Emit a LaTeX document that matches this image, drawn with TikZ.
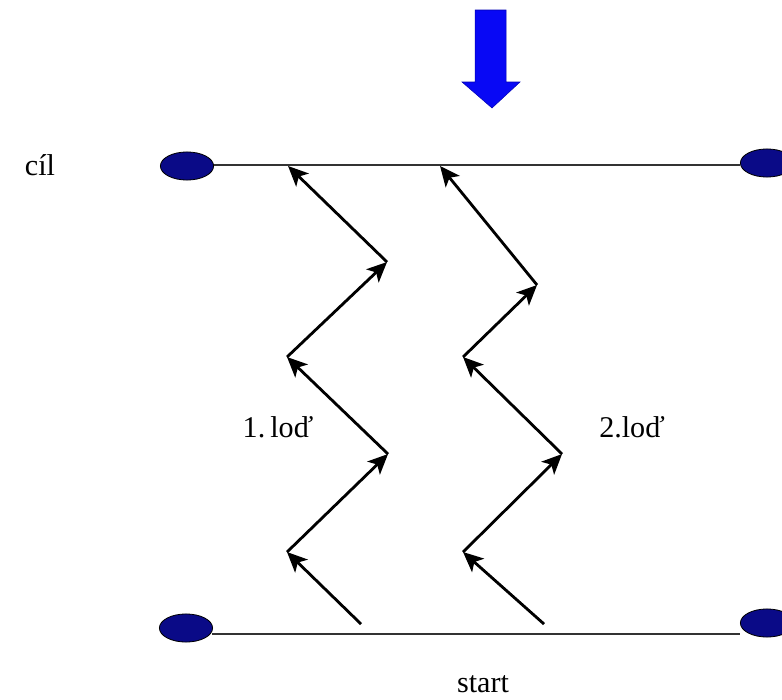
\documentclass[tikz,border=0pt]{standalone}
\usepackage{fontspec}
\setmainfont{Liberation Serif}
\usetikzlibrary{arrows.meta,shapes.geometric}
\definecolor{padnavy}{RGB}{10,10,135}
\definecolor{dropblue}{RGB}{8,8,245}
\begin{document}
\begin{tikzpicture}[scale=0.35,
    pad/.style={ellipse,draw=black,line width=0.8pt,fill=padnavy,minimum width=53pt,minimum height=28pt},
    leg/.style={line width=2.8pt,-{Stealth[length=20pt,width=18pt,inset=5pt]}},
    shore/.style={line width=1.8pt,black!80},
    lbl/.style={font=\fontsize{30}{36}\selectfont,anchor=base}]
    \tikzstyle{every node}+=[inner sep=0pt]
    \useasboundingbox (0,0) rectangle (78.2,-70);
    \coordinate (c0) at (21.2,-16.5);
    \coordinate (c1) at (74.0,-16.5);
    \coordinate (s0) at (21.2,-63.4);
    \coordinate (s1) at (74.0,-63.4);
    \draw [shore] (c0) -- (c1);
    \draw [shore] (s0) -- (s1);
    \node [pad] (cilL) at (18.7,-16.6) {};
    \node [pad] (cilR) at (76.7,-16.3) {};
    \node [pad] (startL) at (18.6,-62.8) {};
    \node [pad] (startR) at (76.7,-62.3) {};
    \fill [dropblue, draw=blue!70!black, line width=0.5pt] (47.5,-1.0) -- (50.6,-1.0) -- (50.6,-8.2) -- (52.0,-8.2) -- (49.2,-10.8) -- (46.2,-8.2) -- (47.5,-8.2) -- cycle;
    \coordinate (a0) at (36.1,-62.4);
    \coordinate (a1) at (28.7,-55.2);
    \coordinate (a2) at (38.8,-45.4);
    \coordinate (a3) at (28.7,-35.7);
    \coordinate (a4) at (38.7,-26.2);
    \coordinate (a5) at (28.8,-16.6);
    \coordinate (b0) at (54.4,-62.4);
    \coordinate (b1) at (46.3,-55.2);
    \coordinate (b2) at (56.2,-45.4);
    \coordinate (b3) at (46.3,-35.7);
    \coordinate (b4) at (53.7,-28.5);
    \coordinate (b5) at (44.0,-16.6);
    \foreach \u/\v in {0/1,1/2,2/3,3/4,4/5}
    {
        \draw [leg] (a\u) -- (a\v);
        \draw [leg] (b\u) -- (b\v);
    }
    \node [lbl] (cil) at (4.0,-17.5) {cíl};
    \node [lbl] (lod1) at (27.8,-43.7) {1.\,loď};
    \node [lbl] (lod2) at (63.2,-43.7) {2.loď};
    \node [lbl] (start) at (48.3,-69.2) {start};
\end{tikzpicture}
\end{document}
